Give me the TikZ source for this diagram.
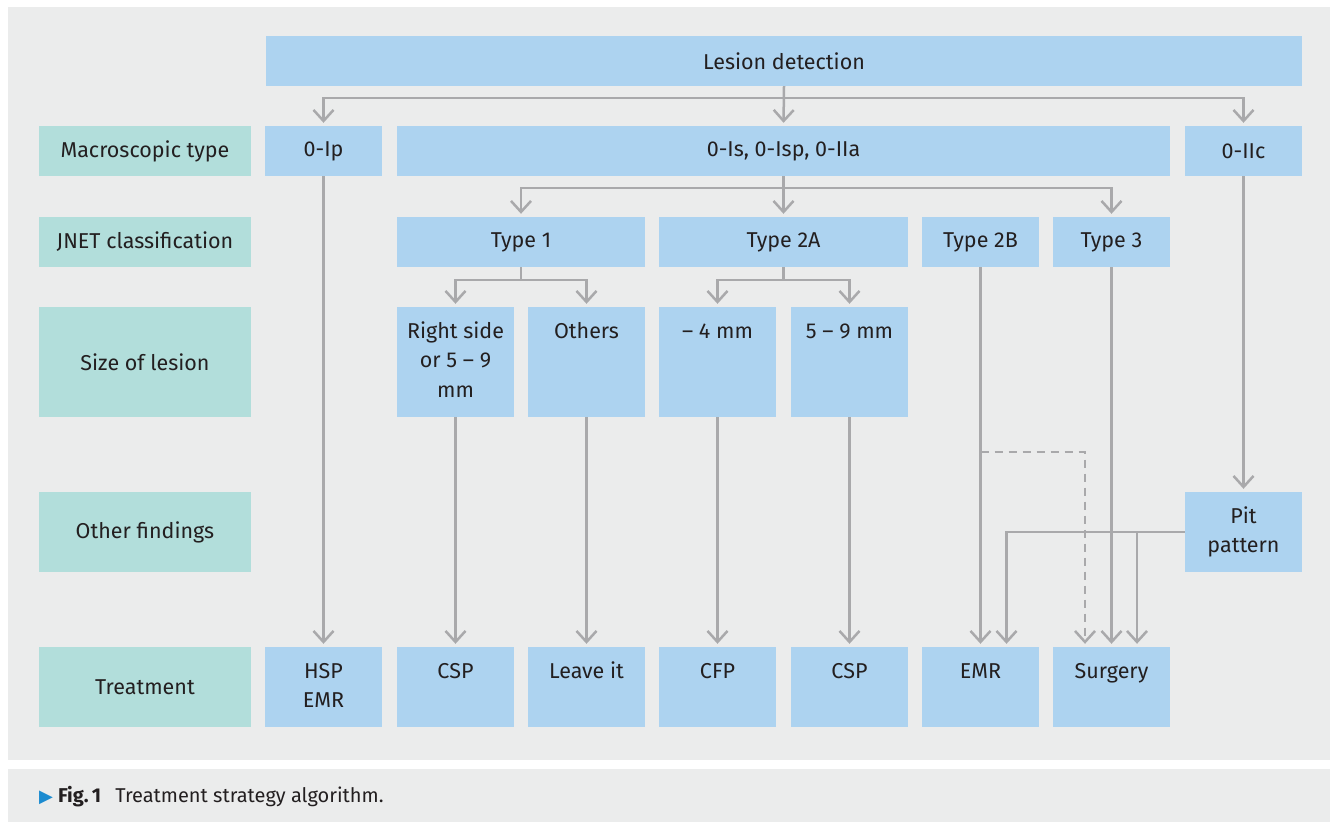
\documentclass[tikz,border=0pt]{standalone}
\usepackage{fontspec}
\setmainfont{Fira Sans}
\newfontfamily\symbolfont{DejaVu Sans}
\usetikzlibrary{arrows.meta}

\definecolor{panelgrey}{HTML}{EBECEC}
\definecolor{boxblue}{HTML}{ADD3F0}
\definecolor{rowteal}{HTML}{B2DEDB}
\definecolor{linegrey}{HTML}{A9A9AB}
\definecolor{textdark}{HTML}{231F20}
\definecolor{capblue}{HTML}{1B8BD0}

\tikzstyle{rowLabel} = [rectangle, minimum width=212pt, inner sep=0pt, text centered, fill=rowteal, text=textdark, font=\fontsize{21.5}{29.5}\selectfont]
\tikzstyle{stepBox} = [rectangle, minimum width=117pt, inner sep=0pt, align=center, fill=boxblue, text=textdark, font=\fontsize{21.5}{29.5}\selectfont]
\tikzstyle{arrow} = [line width=2.5pt, draw=linegrey, shorten >=3pt, -{Straight Barb[length=11pt,width=20pt]}]

\begin{document}
\begin{tikzpicture}[x=1pt, y=-1pt]
    \useasboundingbox (0,0) rectangle (1330,822);
    \fill[panelgrey] (8,7) rectangle (1330,760);
    \fill[panelgrey] (8,769) rectangle (1330,822);

    % row labels
    \node (macroLabel)[rowLabel, minimum height=50pt] at (145,151) {Macroscopic type};
    \node (jnetLabel)[rowLabel, minimum height=50pt] at (145,242) {JNET classification};
    \node (sizeLabel)[rowLabel, minimum height=110pt] at (145,362) {Size of lesion};
    \node (otherLabel)[rowLabel, minimum height=80pt] at (145,532) {Other findings};
    \node (treatLabel)[rowLabel, minimum height=80pt] at (145,687) {Treatment};

    \node (lesion)[stepBox, minimum width=1036pt, minimum height=50pt] at (784,61) {Lesion detection};

    \node (ip)[stepBox, minimum height=50pt] at (323.5,151) {0-Ip};
    \node (isp)[stepBox, minimum width=773pt, minimum height=50pt] at (783.5,151) {0-Is, 0-Isp, 0-IIa};
    \node (iic)[stepBox, minimum height=50pt] at (1243.5,151) {0-IIc};

    \node (type1)[stepBox, minimum width=248pt, minimum height=50pt] at (521,242) {Type 1};
    \node (type2a)[stepBox, minimum width=249pt, minimum height=50pt] at (783.5,242) {Type 2A};
    \node (type2b)[stepBox, minimum height=50pt] at (980.5,242) {Type 2B};
    \node (type3)[stepBox, minimum height=50pt] at (1111.5,242) {Type 3};

    \node (rightSide)[stepBox, minimum height=110pt] at (455.5,362) {\strut Right side\\\strut or 5 -- 9\\\strut mm};
    \node (others)[stepBox, minimum height=110pt] at (586.5,362) {\strut Others\\\strut\\\strut};
    \node (small)[stepBox, minimum height=110pt] at (717.5,362) {\strut -- 4 mm\\\strut\\\strut};
    \node (medium)[stepBox, minimum height=110pt] at (849.5,362) {\strut 5 -- 9 mm\\\strut\\\strut};

    \node (pit)[stepBox, minimum height=80pt] at (1243.5,532) {\strut Pit\\\strut pattern};

    \node (hspEmr)[stepBox, minimum height=80pt] at (323.5,687) {\strut HSP\\\strut EMR};
    \node (csp1)[stepBox, minimum height=80pt] at (455.5,687) {\strut CSP\\\strut};
    \node (leave)[stepBox, minimum height=80pt] at (586.5,687) {\strut Leave it\\\strut};
    \node (cfp)[stepBox, minimum height=80pt] at (717.5,687) {\strut CFP\\\strut};
    \node (csp2)[stepBox, minimum height=80pt] at (849.5,687) {\strut CSP\\\strut};
    \node (emr)[stepBox, minimum height=80pt] at (980.5,687) {\strut EMR\\\strut};
    \node (surgery)[stepBox, minimum height=80pt] at (1111.5,687) {\strut Surgery\\\strut};

    \node (caption)[anchor=west, inner sep=0pt, text=textdark, font=\fontsize{20}{24}\selectfont] at (39,797) {{\symbolfont\color{capblue}\fontsize{18}{20}\selectfont ▶}\hspace{5pt}\textbf{Fig.\,1}\hspace{14pt}Treatment strategy algorithm.};

    % branches
    \draw [arrow] (lesion.south) -- ++(0,12) -| (ip.north);
    \draw [arrow] (lesion.south) -- ++(0,12) -| (iic.north);
    \draw [arrow] (lesion.south) -- (isp.north);

    \draw [arrow] (isp.south) -- ++(0,12) -| (type1.north);
    \draw [arrow] (isp.south) -- ++(0,12) -| (type3.north);
    \draw [arrow] (isp.south) -- (type2a.north);

    \draw [arrow] (type1.south) -- ++(0,13) -| (rightSide.north);
    \draw [arrow] (type1.south) -- ++(0,13) -| (others.north);
    \draw [arrow] (type2a.south) -- ++(0,13) -| (small.north);
    \draw [arrow] (type2a.south) -- ++(0,13) -| (medium.north);

    % straight down to treatment
    \draw [arrow] (ip.south) -- (hspEmr.north);
    \draw [arrow] (rightSide.south) -- (csp1.north);
    \draw [arrow] (others.south) -- (leave.north);
    \draw [arrow] (small.south) -- (cfp.north);
    \draw [arrow] (medium.south) -- (csp2.north);
    \draw [arrow] (type2b.south) -- (emr.north);
    \draw [arrow] (type3.south) -- (surgery.north);
    \draw [arrow] (iic.south) -- (pit.north);

    \draw [arrow, dash pattern=on 8pt off 6pt] ([yshift=-185pt]type2b.south) -| ([xshift=-26.5pt]surgery.north);
    \draw [arrow] (pit.west) -| ([xshift=26pt]emr.north);
    \draw [arrow] (pit.west) -| ([xshift=25.5pt]surgery.north);
  \end{tikzpicture}
\end{document}
